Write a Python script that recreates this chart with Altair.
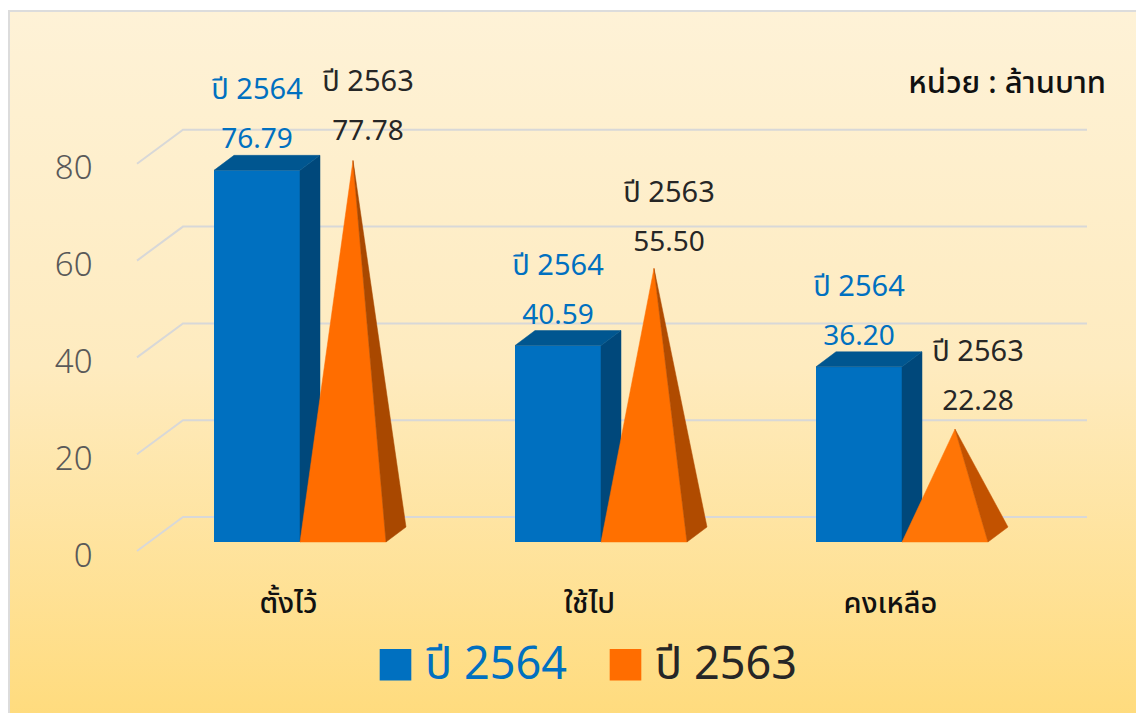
import altair as alt
import pandas as pd

categories = ["ตั้งไว้", "ใช้ไป", "คงเหลือ"]
series_names = ["ปี 2564", "ปี 2563"]
values_2564 = [76.79, 40.59, 36.20]
values_2563 = [77.78, 55.50, 22.28]
y_ticks = [0, 20, 40, 60, 80]
unit_label = "หน่วย : ล้านบาท"

FONT = "Noto Sans, Noto Sans Thai, sans-serif"
BLUE, BLUE_SIDE, BLUE_TOP = "#0070C0", "#00487B", "#005690"
ORANGE = "#FF6D00"
CONE_FRONTS = ["#FF6D00", "#FF7000", "#FF7506"]
CONE_SIDES = ["#A94800", "#B04B00", "#C25200"]
DARK = "#262626"
W, H = 1128, 705
PX_X, PX_Y = 301.0, 4.84          # pixels per unit on each scale
BASE_X = 292.0                    # pixel of the first category joint
BASE_Y = 534.0                    # pixel of the value 0 on the front plane
BW, DX, DY = 86 / PX_X, 20 / PX_X, 15 / PX_Y
APEX_RISE = 5 / PX_Y
LABEL_SHIFT_2563 = [15, 15, 23]   # px to the right of each apex
LABEL_LIFT_2563 = [2, -2, 0]      # px above the default label height
LABEL_LIFT_2564 = -2
x_scale = alt.Scale(domain=[-BASE_X / PX_X, (W - BASE_X) / PX_X], nice=False, zero=False)
y_scale = alt.Scale(domain=[-(H - BASE_Y) / PX_Y, BASE_Y / PX_Y], nice=False, zero=False)

x_axis = alt.Axis(
    values=[0, 1, 2], title=None, domain=False, ticks=False, grid=False, zindex=1,
    labelExpr="['" + "','".join(categories) + "'][datum.value]",
    labelFont=FONT, labelFontSize=29, labelFontWeight=500, labelColor="#111111",
    labelOffset=-12, offset=-110, labelPadding=0, labelBaseline="middle")
y_axis = alt.Axis(
    values=y_ticks, title=None, domain=False, ticks=False, grid=False, zindex=1,
    labelFont=FONT, labelFontSize=33, labelFontWeight=300, labelColor="#595959",
    labelOffset=14, offset=-84, labelPadding=0, labelOverlap=False)
X = alt.X("x:Q", scale=x_scale, axis=x_axis)
Y = alt.Y("y:Q", scale=y_scale, axis=y_axis)


def polys(shape, groups=(0, 1, 2)):
    rows = []
    for g in groups:
        if shape == "side":
            v = values_2564[g]
            pts = [(g, v), (g + DX, v + DY), (g + DX, DY), (g, 0)]
        elif shape == "top":
            v = values_2564[g]
            pts = [(g - BW, v), (g - BW + DX, v + DY), (g + DX, v + DY), (g, v)]
        else:
            v = values_2563[g]
            ax, ay = g + BW / 2 + DX / 2, v + APEX_RISE
            if shape == "cone":
                pts = [(g, 0), (ax, ay), (g + BW, 0)]
            else:
                pts = [(ax, ay), (g + BW, 0), (g + BW + DX, DY)]
        for i, (x, y) in enumerate(pts + pts[:1]):
            rows.append({"g": g, "i": i, "x": x, "y": y})
    return pd.DataFrame(rows)


def poly_layer(shape, fill, groups=(0, 1, 2)):
    return alt.Chart(polys(shape, groups)).mark_line(fill=fill, stroke=fill, strokeWidth=0.5).encode(
        x=X, y=Y, detail="g:N", order="i:Q",
    )


bg = alt.Chart(pd.DataFrame({"a": [0]})).mark_rect(
    stroke="#DCDCDC",
    strokeWidth=2,
    fill=alt.Gradient(
        gradient="linear", x1=0, x2=0, y1=0, y2=1,
        stops=[alt.GradientStop(color="#FEF2D7", offset=0),
               alt.GradientStop(color="#FEEBBF", offset=0.5),
               alt.GradientStop(color="#FFDB7C", offset=1)],
    ),
).encode(x=alt.value(1), x2=alt.value(W + 10), y=alt.value(3), y2=alt.value(H + 10))

grid_rows = []
for t in y_ticks:
    v = t + 25 / PX_Y
    for i, (x, y) in enumerate([(-BW - 77 / PX_X, t - 9 / PX_Y),
                                (-BW - 31 / PX_X, v),
                                ((1079 - BASE_X) / PX_X, v)]):
        grid_rows.append({"t": t, "i": i, "x": x, "y": y})
grid = alt.Chart(pd.DataFrame(grid_rows)).mark_line(color="#D8D8D8", strokeWidth=2).encode(
    x=X, y=Y, detail="t:N", order="i:Q",
)

front = pd.DataFrame({
    "x": [g - BW for g in range(3)], "x2": list(range(3)),
    "y": values_2564, "y0": [0, 0, 0], "series": [series_names[0]] * 3,
})
bars = alt.Chart(front).mark_bar().encode(
    x=X,
    x2="x2:Q",
    y=Y,
    y2="y0:Q",
    color=alt.Color("series:N", scale=alt.Scale(domain=series_names, range=[BLUE, ORANGE]),
                    legend=alt.Legend(
                        title=None, orient="none", direction="horizontal",
                        legendX=365, legendY=634,
                        symbolType="square", symbolSize=1000, symbolStrokeWidth=0,
                        symbolOpacity=1, columnPadding=36, labelOffset=7,
                        labelFont=FONT, labelFontSize=45,
                        labelColor=alt.ExprRef("datum.label == '" + series_names[0] + "' ? '" + BLUE + "' : '" + DARK + "'"),
                    )),
)

label_rows = []
for g in range(3):
    label_rows.append({"x": g - BW / 2, "y": values_2564[g] + LABEL_LIFT_2564 / PX_Y,
                       "v": f"{values_2564[g]:.2f}", "s": series_names[0], "c": BLUE})
    label_rows.append({"x": g + BW / 2 + DX / 2 + LABEL_SHIFT_2563[g] / PX_X,
                       "y": values_2563[g] + LABEL_LIFT_2563[g] / PX_Y,
                       "v": f"{values_2563[g]:.2f}", "s": series_names[1], "c": DARK})
labels = pd.DataFrame(label_rows)
val_text = alt.Chart(labels).mark_text(font=FONT, fontSize=28, dy=-32, align="center", baseline="middle").encode(
    x=X, y=Y, text="v:N", color=alt.Color("c:N", scale=None, legend=None))
name_text = alt.Chart(labels).mark_text(font=FONT, fontSize=29, dy=-82, align="center", baseline="middle").encode(
    x=X, y=Y, text="s:N", color=alt.Color("c:N", scale=None, legend=None))
unit = alt.Chart(pd.DataFrame({"t": [unit_label]})).mark_text(
    font=FONT, fontSize=31, fontWeight=500, align="right", baseline="middle", color="#111111"
).encode(x=alt.value(1098), y=alt.value(76), text="t:N")

cone_fronts = [poly_layer("cone", CONE_FRONTS[g], (g,)) for g in range(3)]
cone_sides = [poly_layer("coneside", CONE_SIDES[g], (g,)) for g in range(3)]

chart = alt.layer(
    bg, grid, bars, poly_layer("side", BLUE_SIDE), poly_layer("top", BLUE_TOP),
    *cone_fronts, *cone_sides,
    val_text, name_text, unit,
).resolve_scale(color="independent").properties(
    width=W, height=H, padding=0, autosize=alt.AutoSizeParams(type="none"), background="white",
).configure_view(stroke=None)

chart.save("out.html", embed_options={"renderer": "svg", "actions": False})
